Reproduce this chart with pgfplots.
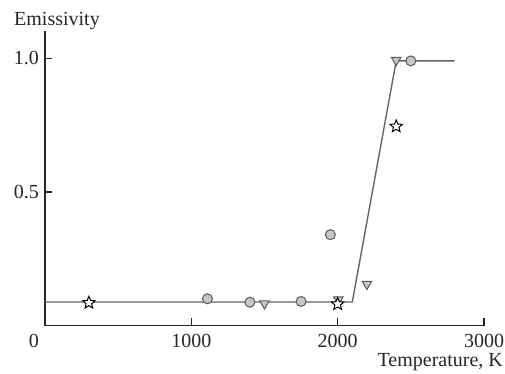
\documentclass[border=0pt]{standalone}
\usepackage{fontspec}
\setmainfont{Liberation Serif}
\usepackage{pgfplots}
\pgfplotsset{compat=1.18}
\pgfdeclareplotmark{ostar}{%
  \pgfpathmoveto{\pgfpointpolar{90}{\pgfplotmarksize}}%
  \pgfpathlineto{\pgfpointpolar{126}{0.45*\pgfplotmarksize}}%
  \pgfpathlineto{\pgfpointpolar{162}{\pgfplotmarksize}}%
  \pgfpathlineto{\pgfpointpolar{198}{0.45*\pgfplotmarksize}}%
  \pgfpathlineto{\pgfpointpolar{234}{\pgfplotmarksize}}%
  \pgfpathlineto{\pgfpointpolar{270}{0.45*\pgfplotmarksize}}%
  \pgfpathlineto{\pgfpointpolar{306}{\pgfplotmarksize}}%
  \pgfpathlineto{\pgfpointpolar{342}{0.45*\pgfplotmarksize}}%
  \pgfpathlineto{\pgfpointpolar{18}{\pgfplotmarksize}}%
  \pgfpathlineto{\pgfpointpolar{54}{0.45*\pgfplotmarksize}}%
  \pgfpathclose
  \pgfusepathqfillstroke
}
\definecolor{txt}{gray}{0.15}
\definecolor{mfill}{gray}{0.78}
\definecolor{medge}{gray}{0.35}
\definecolor{fitline}{gray}{0.4}
\begin{document}
\begin{tikzpicture}[font=\fontsize{20}{24}\selectfont]
\begin{axis}[
  scale only axis,
  width=439pt, height=294pt,
  xmin=0, xmax=3000, ymin=0, ymax=1.1,
  axis x line=bottom, axis y line=left,
  axis line style={-, line width=1.5pt, draw=black!85},
  tick align=inside,
  major tick length=7pt,
  tick style={line width=1.3pt, black!85},
  xtick={1000,2000,3000},
  ytick={0.5,1.0},
  yticklabels={0.5,1.0},
  /pgf/number format/assume math mode=true,
  /pgf/number format/set thousands separator={},
  xticklabel style={inner sep=0pt, anchor=north, yshift=-8pt, text=txt},
  yticklabel style={inner sep=0pt, anchor=east, xshift=-6pt, text=txt},
  xlabel={Temperature, K},
  ylabel={Emissivity},
  xlabel style={at={(rel axis cs:1,0)}, anchor=base east, inner sep=0pt, xshift=19pt, yshift=-41pt, text=txt},
  ylabel style={at={(rel axis cs:0,1)}, anchor=base west, rotate=-90, inner sep=0pt, xshift=-31pt, yshift=5.5pt, text=txt},
  clip=false,
]
\addplot[fitline, line width=1.4pt, mark=none] coordinates {
  (0,0.088) (2100,0.088) (2400,0.99) (2800,0.99)
};
\addplot[only marks, mark=*, mark size=5pt, mark options={fill=mfill, draw=medge, line width=1pt}] coordinates {
  (1110,0.10) (1400,0.087) (1750,0.09) (1950,0.34) (2500,0.99)
};
\addplot[only marks, mark=triangle*, mark size=5.5pt, mark options={rotate=180, fill=mfill, draw=medge, line width=1pt}] coordinates {
  (1500,0.082) (2005,0.097) (2200,0.155) (2400,0.993)
};
\addplot[only marks, mark=ostar, mark size=6.5pt, mark options={fill=white, draw=black, line width=1pt}] coordinates {
  (300,0.085) (2000,0.08) (2400,0.745)
};
\node[anchor=north east, inner sep=0pt, text=txt] at ([xshift=-6pt,yshift=-8pt]rel axis cs:0,0) {0};
\path (rel axis cs:0,0) ++(-45pt,-48.5pt) coordinate (bl);
\path (rel axis cs:1,1) ++(21pt,31.5pt) coordinate (tr);
\end{axis}
\pgfresetboundingbox
\useasboundingbox (bl) rectangle (tr);
\end{tikzpicture}
\end{document}
